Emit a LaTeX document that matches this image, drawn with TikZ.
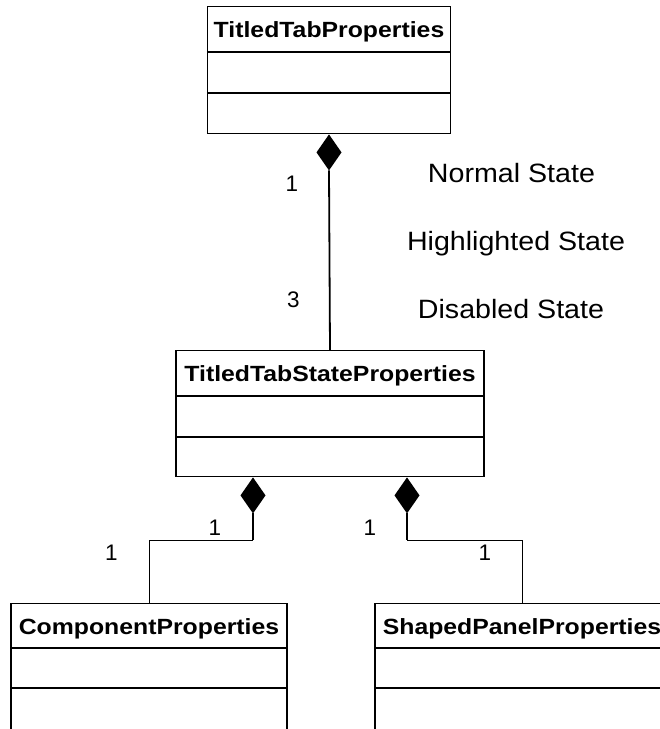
\documentclass[tikz,border=0pt]{standalone}
\usepackage{fontspec}
\setmainfont{Liberation Sans}
\usetikzlibrary{shapes.geometric}
% horizontal stretch of a piece of text
\newcommand{\wide}[2]{\scalebox{#1}[1]{#2}}

\begin{document}
\begin{tikzpicture}[x=1pt,y=-1pt,
  classbox/.style={draw=black, line width=1.4pt, inner sep=0pt, anchor=north},
  divider/.style={line width=1.4pt},
  classtitle/.style={anchor=base, inner sep=0pt, font=\fontsize{22}{26}\selectfont\bfseries},
  comp/.style={diamond, fill=black, draw=none, inner sep=0pt, outer sep=0pt,
               minimum width=25pt, minimum height=36pt, anchor=north},
  strong/.style={line width=1.8pt},
  link/.style={line width=1pt},
  mult/.style={anchor=base, inner sep=0pt, font=\fontsize{22.5}{26}\selectfont},
  statelabel/.style={anchor=base, inner sep=0pt, font=\fontsize{26.5}{30}\selectfont}]
\useasboundingbox (0,0) rectangle (660,729);
\clip (0,0) rectangle (660,729);

% ---- classes ----
\node[classbox, minimum width=243pt, minimum height=127pt] (tabprops) at (329,6) {};
\draw[divider] ([yshift=-46pt]tabprops.north west) -- ([yshift=-46pt]tabprops.north east);
\draw[divider] ([yshift=-87pt]tabprops.north west) -- ([yshift=-87pt]tabprops.north east);
\node[classtitle] (tabprops-name) at ([yshift=-31pt]tabprops.north) {\wide{1.127}{TitledTabProperties}};

\node[classbox, minimum width=308pt, minimum height=126pt] (state) at (330,350) {};
\draw[divider] ([yshift=-46pt]state.north west) -- ([yshift=-46pt]state.north east);
\draw[divider] ([yshift=-87pt]state.north west) -- ([yshift=-87pt]state.north east);
\node[classtitle] (state-name) at ([yshift=-31pt]state.north) {\wide{1.127}{TitledTabStateProperties}};

\node[classbox, minimum width=276pt, minimum height=126pt] (component) at (149,603) {};
\draw[divider] ([yshift=-45pt]component.north west) -- ([yshift=-45pt]component.north east);
\draw[divider] ([yshift=-85pt]component.north west) -- ([yshift=-85pt]component.north east);
\node[classtitle] (component-name) at ([yshift=-31pt]component.north) {\wide{1.127}{ComponentProperties}};

\node[classbox, minimum width=294pt, minimum height=126pt] (panel) at (522,603) {};
\draw[divider] ([yshift=-45pt]panel.north west) -- ([yshift=-45pt]panel.north east);
\draw[divider] ([yshift=-85pt]panel.north west) -- ([yshift=-85pt]panel.north east);
\node[classtitle] (panel-name) at ([yshift=-31pt]panel.north) {\wide{1.127}{ShapedPanelProperties}};

% ---- composition diamonds ----
\node[comp] (d-top) at (tabprops.south) {};
\node[comp] (d-left) at ([xshift=-77pt]state.south) {};
\node[comp] (d-right) at ([xshift=77pt]state.south) {};

% ---- connectors ----
\draw[strong] (d-top.south) -- (state.north);
\draw[strong] (d-left.south) -- ++(0,27) coordinate (bend-left);
\draw[link] (bend-left) -| (component.north);
\draw[strong] (d-right.south) -- ++(0,27) coordinate (bend-right);
\draw[link] (bend-right) -| (panel.north);

% ---- multiplicities ----
\node[mult] (m-top) at (292,191) {1};
\node[mult] (m-state) at (293.5,307) {3};
\node[mult] (m-left-whole) at (215,535) {1};
\node[mult] (m-left-part) at (111.5,560) {1};
\node[mult] (m-right-whole) at (370,535) {1};
\node[mult] (m-right-part) at (485,560) {1};

% ---- state names ----
\node[statelabel] (normal) at (511.5,182) {\wide{1.08}{Normal State}};
\node[statelabel] (highlighted) at (516,250) {\wide{1.08}{Highlighted State}};
\node[statelabel] (disabled) at (511,318) {\wide{1.08}{Disabled State}};
\end{tikzpicture}
\end{document}
